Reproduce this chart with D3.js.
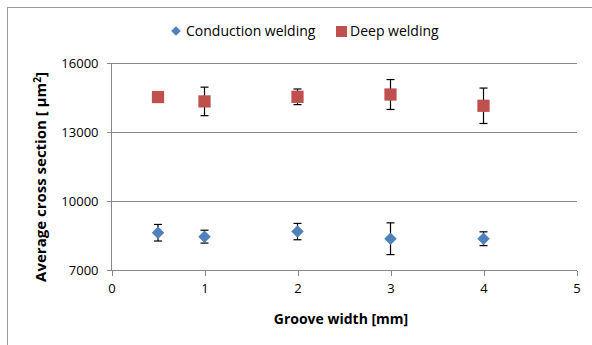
<!DOCTYPE html>
<html>
<head>
<script src="https://cdnjs.cloudflare.com/ajax/libs/d3/7.8.5/d3.min.js"></script>
<style type='text/css'>
  body { margin: 0; background: #fff; }
  svg text { font-family: "Open Sans", sans-serif; fill: #000; }
  .grid line { stroke: #888; stroke-width: 1; shape-rendering: crispEdges; }
  .axis path, .axis line { stroke: #888; shape-rendering: crispEdges; }
  .axis text { font-size: 13px; }
  .err { stroke: #000; stroke-width: 1.2; }
</style>
</head>
<body>
<div id='chart'></div>
<script type='text/javascript'>
// groove width [mm]
var grooveWidth = [0.5, 1, 2, 3, 4];
// conduction welding
var conductionMean = [8620, 8450, 8670, 8360, 8360];
var conductionErr = [360, 280, 355, 690, 300];
// deep welding
var deepMean = [14520, 14330, 14530, 14630, 14140];
var deepErr = [80, 620, 340, 650, 770];
var yTicks = [7000, 10000, 13000, 16000];
var xTicks = [0, 1, 2, 3, 4, 5];

var W = 592, H = 345;
var svg = d3.select('#chart').append('svg')
  .attr('width', W).attr('height', H);

// outer chart frame
svg.append('rect')
  .attr('x', 7.5).attr('y', 7.5)
  .attr('width', W + 10).attr('height', H + 10)
  .attr('fill', 'none').attr('stroke', '#999');

var x = d3.scaleLinear().domain([0, 5]).range([111.5, 576.5]);
var y = d3.scaleLinear().domain([7000, 16000]).range([270, 63]);

// gridlines
svg.append('g').attr('class', 'grid')
  .selectAll('line').data(yTicks.slice(1)).enter().append('line')
  .attr('x1', x(0)).attr('x2', x(5))
  .attr('y1', function(d) { return Math.round(y(d)) + 0.5; })
  .attr('y2', function(d) { return Math.round(y(d)) + 0.5; });

var yAxis = svg.append('g').attr('class', 'axis')
  .attr('transform', 'translate(' + x(0) + ',0)')
  .call(d3.axisLeft(y).tickValues(yTicks).tickFormat(d3.format('d'))
    .tickSize(5).tickSizeOuter(0).tickPadding(8));
yAxis.select('.domain').remove();
yAxis.append('line').attr('x1', 0).attr('x2', 0).attr('y1', y(16000)).attr('y2', y(7000));

var xAxis = svg.append('g').attr('class', 'axis')
  .attr('transform', 'translate(0,' + (Math.round(y(7000)) + 0.5) + ')')
  .call(d3.axisBottom(x).tickValues(xTicks).tickFormat(d3.format('d'))
    .tickSize(5).tickSizeOuter(0).tickPadding(8));
xAxis.select('.domain').remove();
xAxis.append('line').attr('x1', x(0) - 5).attr('x2', x(5)).attr('y1', 0).attr('y2', 0);

// axis titles
svg.append('text')
  .attr('x', x(2.5) - 3).attr('y', 324)
  .attr('text-anchor', 'middle')
  .style('font-size', '14px').style('font-weight', 'bold')
  .text('Groove width [mm]');

var yt = svg.append('text')
  .attr('transform', 'translate(46,177) rotate(-90)')
  .attr('text-anchor', 'middle')
  .style('font-size', '15px').style('font-weight', 'bold');
yt.append('tspan').text('Average cross section [ \u00b5m');
yt.append('tspan').attr('dy', -5).style('font-size', '10px').text('2');
yt.append('tspan').attr('dy', 5).text(']');

function errorBars(means, errs) {
  var g = svg.append('g');
  means.forEach(function(m, i) {
    var cx = x(grooveWidth[i]);
    var y1 = y(m + errs[i]), y2 = y(m - errs[i]);
    g.append('line').attr('class', 'err').attr('x1', cx).attr('x2', cx).attr('y1', y1).attr('y2', y2);
    g.append('line').attr('class', 'err').attr('x1', cx - 4).attr('x2', cx + 4).attr('y1', y1).attr('y2', y1);
    g.append('line').attr('class', 'err').attr('x1', cx - 4).attr('x2', cx + 4).attr('y1', y2).attr('y2', y2);
  });
}
errorBars(deepMean, deepErr);
errorBars(conductionMean, conductionErr);

var diamond = d3.symbol().type(d3.symbolDiamond2).size(100);
var square = d3.symbol().type(d3.symbolSquare).size(150);

svg.append('g').selectAll('path').data(conductionMean).enter().append('path')
  .attr('d', diamond)
  .attr('transform', function(d, i) { return 'translate(' + x(grooveWidth[i]) + ',' + y(d) + ')'; })
  .attr('fill', '#4F81BD');

svg.append('g').selectAll('path').data(deepMean).enter().append('path')
  .attr('d', square)
  .attr('transform', function(d, i) { return 'translate(' + x(grooveWidth[i]) + ',' + y(d) + ')'; })
  .attr('fill', '#C0504D');

// legend
var legend = svg.append('g');
legend.append('path').attr('d', d3.symbol().type(d3.symbolDiamond2).size(60))
  .attr('transform', 'translate(176,31)').attr('fill', '#4F81BD');
legend.append('text').attr('x', 186).attr('y', 36).style('font-size', '14px').text('Conduction welding');
legend.append('rect').attr('x', 336).attr('y', 26).attr('width', 11).attr('height', 11).attr('fill', '#C0504D');
legend.append('text').attr('x', 350).attr('y', 36).style('font-size', '14px').text('Deep welding');
</script>
</body>
</html>
